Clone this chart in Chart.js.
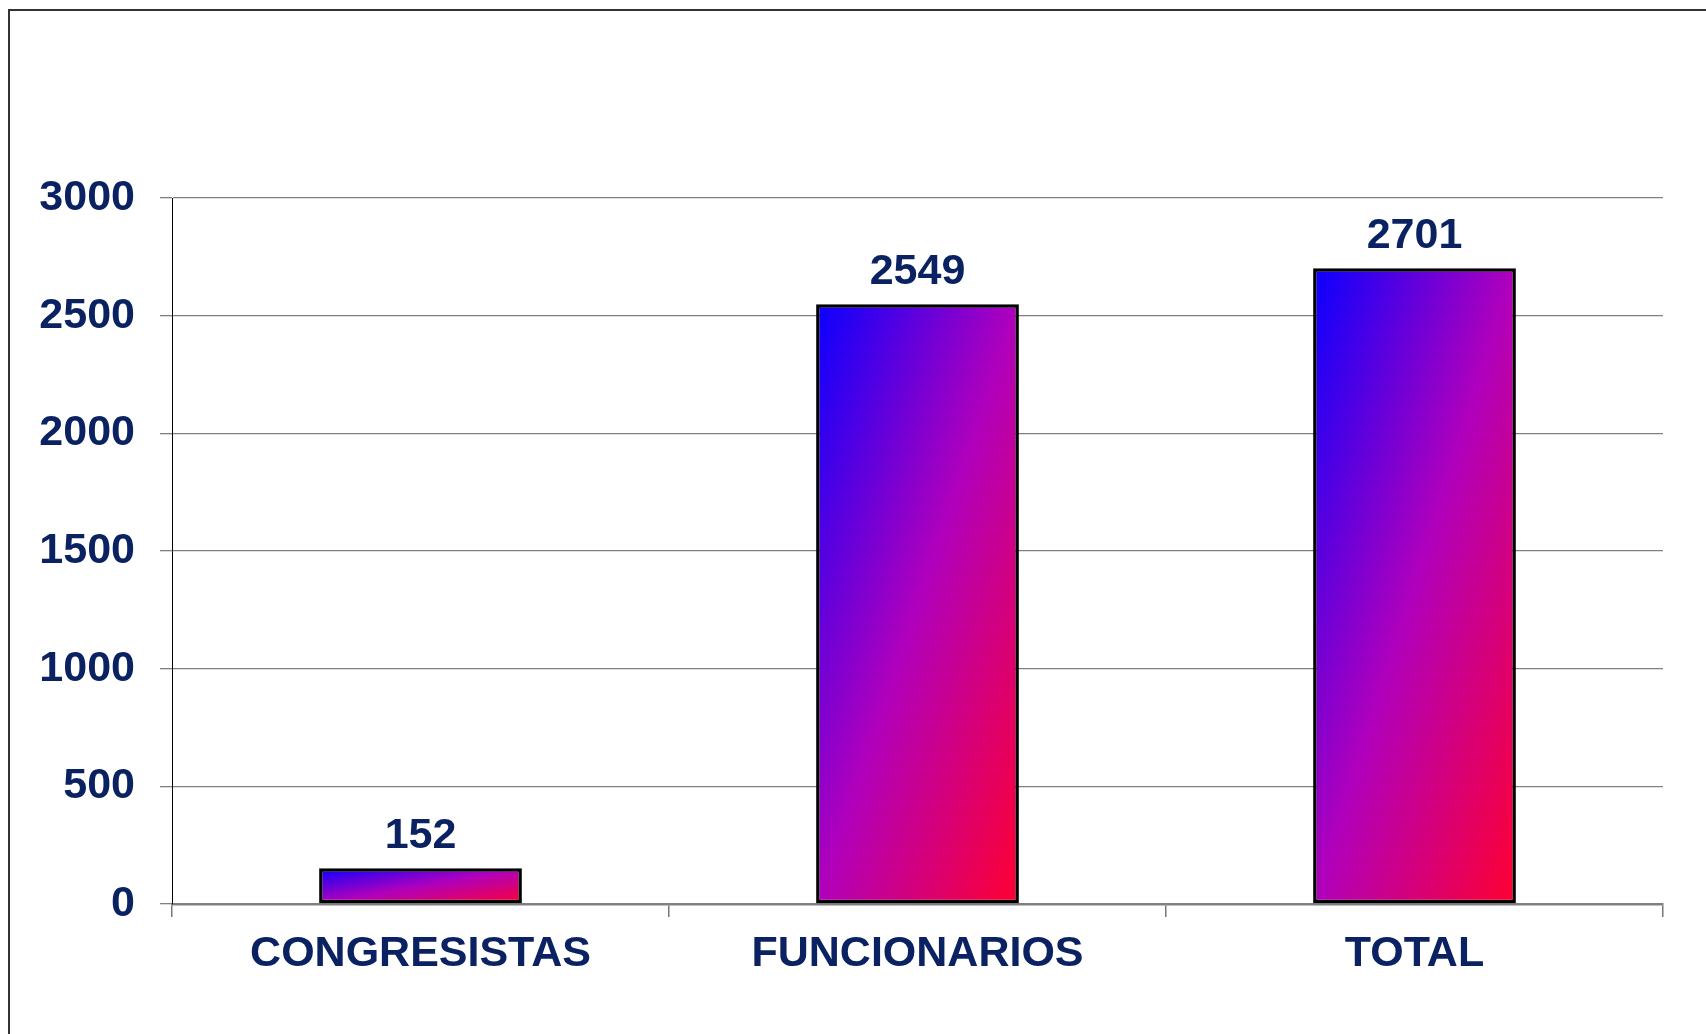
<!DOCTYPE html>
<html>
<head>
<meta charset="utf-8">
<script src="https://cdn.jsdelivr.net/npm/chart.js@4/dist/chart.umd.min.js"></script>
<style>
    html, body { margin: 0; padding: 0; background: #fff; overflow: hidden; }
    #frame {
        position: absolute; left: 8px; top: 9px; width: 1800px; height: 1100px;
        border-left: 2px solid #333; border-top: 2px solid #333;
    }
    #wrap { position: absolute; left: 0; top: 0; width: 1706px; height: 1034px; }
</style>
</head>
<body>
<div id="frame"></div>
<div id="wrap"><canvas id="chart-bars"></canvas></div>

<script>
    // data
    const categories = ['CONGRESISTAS', 'FUNCIONARIOS', 'TOTAL'];
    const values = [152, 2549, 2701];
    const yTicks = [0, 500, 1000, 1500, 2000, 2500, 3000];

    const navy = '#0B2262';
    const barPct = 0.408;
    const font = '"Liberation Sans", Arial, sans-serif';
    const fallback = '#B000BC';

    // diagonal blue -> purple -> red fill, computed per bar
    function barGradient(c) {
        const chart = c.chart;
        const xs = chart.scales.x, ys = chart.scales.y;
        if (!xs || !ys || c.dataIndex === undefined || !chart.chartArea) return fallback;
        const cx = xs.getPixelForValue(c.dataIndex);
        const w = (chart.chartArea.right - chart.chartArea.left) / categories.length * barPct;
        const left = cx - w / 2;
        const top = ys.getPixelForValue(values[c.dataIndex]);
        const h = ys.getPixelForValue(0) - top;
        const t = 2 * w * h / (w * w + h * h);
        const nums = [cx, w, left, top, h, t];
        if (nums.some(n => !isFinite(n)) || h <= 0 || w <= 0) return fallback;
        const g = chart.ctx.createLinearGradient(left, top, left + t * h, top + t * w);
        g.addColorStop(0, '#0A00FF');
        g.addColorStop(0.5, '#B000BC');
        g.addColorStop(1, '#FF0030');
        return g;
    }

    const valueLabels = {
        id: 'valueLabels',
        afterDatasetsDraw(chart) {
            const ctx = chart.ctx;
            ctx.save();
            ctx.fillStyle = navy;
            ctx.font = 'bold 43px ' + font;
            ctx.textAlign = 'center';
            ctx.textBaseline = 'alphabetic';
            chart.getDatasetMeta(0).data.forEach(function (bar, i) {
                ctx.fillText(String(values[i]), bar.x, bar.y - 20);
            });
            ctx.restore();
        }
    };

    var ctx = document.getElementById('chart-bars').getContext('2d');

    new Chart(ctx, {
        type: 'bar',
        data: {
            labels: categories,
            datasets: [{
                data: values,
                backgroundColor: barGradient,
                borderColor: '#000',
                borderWidth: 3.5,
                borderSkipped: false,
                categoryPercentage: 1,
                barPercentage: barPct
            }]
        },
        options: {
            responsive: true,
            maintainAspectRatio: false,
            animation: false,
            layout: { padding: { top: 198, right: 43, left: 0, bottom: 0 } },
            plugins: {
                legend: { display: false },
                tooltip: { enabled: false }
            },
            scales: {
                x: {
                    offset: true,
                    grid: {
                        offset: true,
                        drawOnChartArea: false,
                        color: '#777',
                        lineWidth: 1.5,
                        tickLength: 13
                    },
                    border: { color: '#808080', width: 2.5 },
                    ticks: {
                        color: navy,
                        padding: 11,
                        font: { family: font, size: 43, weight: 'bold' }
                    },
                    afterFit(scale) { scale.height = 130; }
                },
                y: {
                    min: 0,
                    max: 3000,
                    afterBuildTicks(scale) {
                        scale.ticks = yTicks.map(v => ({ value: v }));
                    },
                    grid: {
                        color: '#808080',
                        lineWidth: 1.3,
                        tickLength: 12
                    },
                    border: { color: '#000', width: 1 },
                    ticks: {
                        color: navy,
                        padding: 25,
                        font: { family: font, size: 43, weight: 'bold' },
                        callback: v => String(v)
                    },
                    afterFit(scale) { scale.width = 172; }
                }
            }
        },
        plugins: [valueLabels]
    });
</script>
</body>
</html>
